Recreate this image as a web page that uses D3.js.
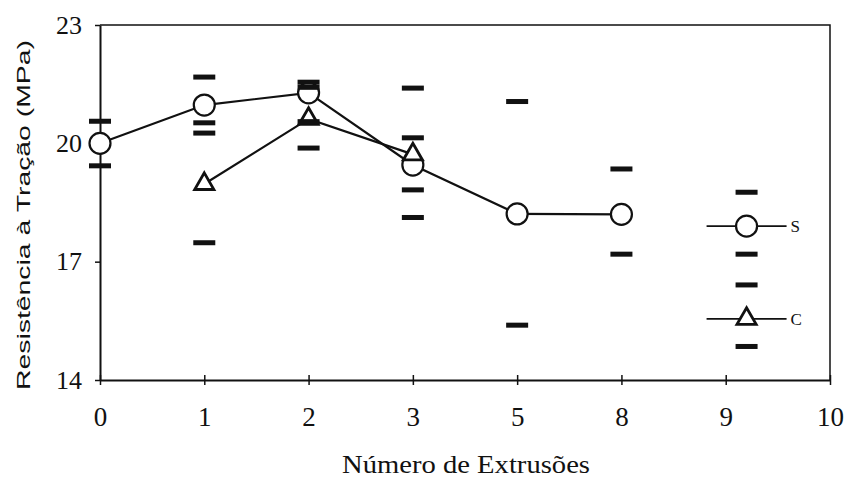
<!DOCTYPE html>
<html>
<head>
<meta charset="utf-8">
<script src="https://cdn.jsdelivr.net/npm/d3@7"></script>
<style>
  body { margin: 0; background: #fff; }
  text { font-family: "Liberation Serif", "Times New Roman", serif; fill: #111; }
</style>
</head>
<body>
<svg id="chart"></svg>
<script>
// categories on the x axis (evenly spaced, not to scale)
const categories = ["0", "1", "2", "3", "5", "8", "9", "10"];
const yTicks = [14, 17, 20, 23];

// mean values, series S (circles) and C (triangles)
const seriesS = [
  { cat: "0", v: 20.0 }, { cat: "1", v: 20.97 }, { cat: "2", v: 21.28 },
  { cat: "3", v: 19.45 }, { cat: "5", v: 18.21 }, { cat: "8", v: 18.2 }
];
const seriesC = [
  { cat: "1", v: 18.97 }, { cat: "2", v: 20.62 }, { cat: "3", v: 19.72 }
];

// individual measurements drawn as short dashes (offset = shift in category units)
const dashes = [
  { cat: "0", v: 20.56 }, { cat: "0", v: 19.43 },
  { cat: "1", v: 21.68 }, { cat: "1", v: 20.52 }, { cat: "1", v: 20.26 }, { cat: "1", v: 17.48 },
  { cat: "2", v: 21.55 }, { cat: "2", v: 21.42 }, { cat: "2", v: 20.55 }, { cat: "2", v: 19.88 },
  { cat: "3", v: 21.4 }, { cat: "3", v: 20.14 }, { cat: "3", v: 18.82 }, { cat: "3", v: 18.12 },
  { cat: "5", v: 21.06 }, { cat: "5", v: 15.39 },
  { cat: "8", v: 19.35 }, { cat: "8", v: 17.19 },
  { cat: "9", v: 18.76, offset: 0.2 }, { cat: "9", v: 17.19, offset: 0.2 },
  { cat: "9", v: 16.41, offset: 0.2 }, { cat: "9", v: 14.85, offset: 0.2 }
];

const legendItems = [
  { name: "S", shape: "circle", v: 17.9 },
  { name: "C", shape: "triangle", v: 15.55 }
];

const width = 845, height = 480;
const margin = { top: 25, right: 15, bottom: 100, left: 100 };
const innerW = width - margin.left - margin.right;
const innerH = height - margin.top - margin.bottom;

const svg = d3.select("#chart").attr("width", width).attr("height", height);
const g = svg.append("g").attr("transform", "translate(" + margin.left + "," + margin.top + ")");

const x = d3.scalePoint().domain(categories).range([0, innerW]);
const step = x.step();
const xPos = (d) => x(d.cat) + (d.offset || 0) * step;
const y = d3.scaleLinear().domain([14, 23]).range([innerH, 0]);

// frame (top and right)
g.append("path")
  .attr("d", "M0,0H" + innerW + "V" + innerH)
  .attr("fill", "none").attr("stroke", "#111").attr("stroke-width", 1.5);

// x axis
const xAxis = g.append("g")
  .attr("transform", "translate(0," + innerH + ")")
  .call(d3.axisBottom(x).tickSizeInner(5).tickSizeOuter(0).tickPadding(22));
xAxis.select(".domain").attr("stroke", "#111").attr("stroke-width", 2);
xAxis.selectAll(".tick line").attr("y1", -5).attr("stroke", "#111").attr("stroke-width", 1.5);
xAxis.selectAll(".tick text").style("font-size", "27px").style("font-family", "Liberation Serif");

// y axis
const yAxis = g.append("g")
  .call(d3.axisLeft(y).tickValues(yTicks).tickSizeInner(5).tickSizeOuter(0).tickPadding(13));
yAxis.select(".domain").attr("stroke", "#111").attr("stroke-width", 2);
yAxis.selectAll(".tick line").attr("stroke", "#111").attr("stroke-width", 1.5);
yAxis.selectAll(".tick text").style("font-size", "26px").style("font-family", "Liberation Serif");

// axis titles
svg.append("text")
  .attr("x", 466).attr("y", 473)
  .attr("text-anchor", "middle").style("font-size", "25px")
  .attr("textLength", 248).attr("lengthAdjust", "spacingAndGlyphs")
  .text("Número de Extrusões");
svg.append("text")
  .attr("transform", "translate(30,215) rotate(-90)")
  .attr("text-anchor", "middle")
  .style("font-size", "19px").style("font-family", "Liberation Sans")
  .attr("textLength", 350).attr("lengthAdjust", "spacingAndGlyphs")
  .text("Resistência à Tração (MPa)");

// lines
const line = d3.line().x(xPos).y((d) => y(d.v));
g.append("path").datum(seriesS).attr("d", line)
  .attr("fill", "none").attr("stroke", "#111").attr("stroke-width", 2.2);
g.append("path").datum(seriesC).attr("d", line)
  .attr("fill", "none").attr("stroke", "#111").attr("stroke-width", 2.2);

// markers
const tri = d3.symbol().type(d3.symbolTriangle).size(160);
g.selectAll(".mS").data(seriesS).enter().append("circle")
  .attr("cx", xPos).attr("cy", (d) => y(d.v)).attr("r", 10.5)
  .attr("fill", "#fff").attr("stroke", "#111").attr("stroke-width", 2.2);
g.selectAll(".mC").data(seriesC).enter().append("path")
  .attr("d", tri)
  .attr("transform", (d) => "translate(" + xPos(d) + "," + y(d.v) + ")")
  .attr("fill", "#fff").attr("stroke", "#111").attr("stroke-width", 2.8);

// dashes
g.selectAll(".dash").data(dashes).enter().append("rect")
  .attr("x", (d) => xPos(d) - 11).attr("y", (d) => y(d.v) - 2.5)
  .attr("width", 22).attr("height", 5).attr("fill", "#111");

// legend
const legendX = x("9") + 0.2 * step;
const lg = g.selectAll(".legend").data(legendItems).enter().append("g")
  .attr("transform", (d) => "translate(" + legendX + "," + y(d.v) + ")");
lg.append("line").attr("x1", -40).attr("x2", 40)
  .attr("stroke", "#111").attr("stroke-width", 1.8);
lg.filter((d) => d.shape === "circle").append("circle")
  .attr("r", 10.5).attr("fill", "#fff").attr("stroke", "#111").attr("stroke-width", 2.2);
lg.filter((d) => d.shape === "triangle").append("path")
  .attr("d", tri).attr("fill", "#fff").attr("stroke", "#111").attr("stroke-width", 2.8);
lg.append("text").attr("x", 44).attr("dy", "0.35em")
  .style("font-size", "17px").text((d) => d.name);
</script>
</body>
</html>
